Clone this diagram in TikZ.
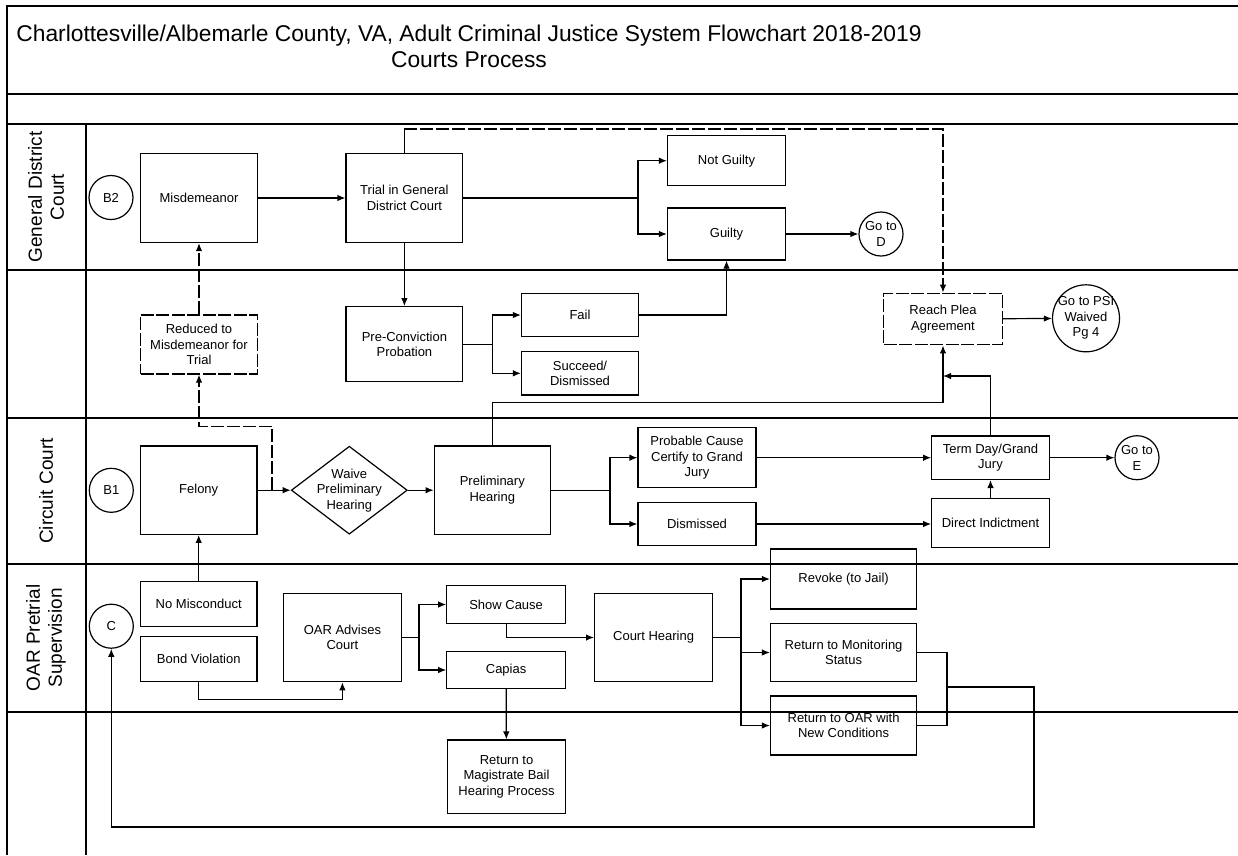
\documentclass[tikz,border=0pt]{standalone}
\usepackage{fontspec}
\setmainfont{Liberation Sans}
\usepackage{tikz}
\usetikzlibrary{shapes.geometric, arrows.meta, positioning}

\begin{document}
\begin{tikzpicture}[x=1pt, y=-1pt, line width=1.2pt,
  box/.style={draw, rectangle, align=center, inner sep=2pt, font=\fontsize{13}{15.5}\selectfont},
  wh/.style 2 args={minimum width=#1pt, minimum height=#2pt},
  dashbox/.style={box, dash pattern=on 13pt off 2.5pt},
  conn/.style={draw, circle, align=center, inner sep=0pt, minimum size=44pt, font=\fontsize{13}{15.5}\selectfont},
  gate/.style={draw, diamond, align=center, inner sep=-6pt, minimum width=116pt, minimum height=88pt, font=\fontsize{13}{15.5}\selectfont},
  flow/.style={-{Latex[length=8pt,width=6.5pt]}},
  dashflow/.style={flow, dash pattern=on 13pt off 3pt},
  lanelabel/.style={rotate=90, align=center, font=\fontsize{19}{22}\selectfont}]
\useasboundingbox (0,0) rectangle (1238,855);

% Frame and swim lanes
\def\rightedge{1238}
\draw (\rightedge,6) -- (7,6) -- (7,855);
\foreach \ly in {94,124,270,418,564,712}
  \draw (7,\ly) -- (\rightedge,\ly);
\draw (86,124) -- (86,855);

% Title
\node[align=center, font=\fontsize{22.8}{26}\selectfont] (title) at (469,46)
  {Charlottesville/Albemarle County, VA, Adult Criminal Justice System Flowchart 2018-2019\\Courts Process};

% Lane names
\node[lanelabel] (gdclbl) at (46,197) {General District\\Court};
\node[lanelabel] (cclbl) at (46,491) {Circuit Court};
\node[lanelabel] (oarlbl) at (46,638) {OAR Pretrial\\Supervision};

% General District Court
\node[conn] (b2) at (111,197.5) {B2};
\node[box, wh={116.6}{89}] (misd) at (199,198) {Misdemeanor};
\node[box, wh={116.8}{89}] (trial) at (404.4,198) {Trial in General\\District Court};
\node[box, wh={118}{50}] (notg) at (726.5,160.7) {Not Guilty};
\node[box, wh={118}{52}] (guilty) at (726.5,234) {Guilty};
\node[conn] (god) at (881,234) {Go to\\D};

% Unnamed lane
\node[dashbox, wh={116.6}{59}] (reduced) at (199,344.5) {Reduced to\\Misdemeanor for\\Trial};
\node[box, wh={116.8}{75}] (preconv) at (404.4,344.2) {Pre-Conviction\\Probation};
\node[box, wh={117}{43.4}] (fail) at (580,315) {Fail};
\node[box, wh={117}{43.4}] (succ) at (580,373.3) {Succeed/\\Dismissed};
\node[dashbox, wh={118.4}{51.7}] (plea) at (943,319) {Reach Plea\\Agreement};
\node[conn, inner sep=-6pt, minimum size=67pt] (psi) at (1086,318.3) {Go to PSI\\Waived\\Pg 4};

% Circuit Court
\node[conn] (b1) at (111.3,490.3) {B1};
\node[box, wh={116.6}{88.3}] (felony) at (198.7,490.2) {Felony};
\node[gate] (waive) at (349.3,490.2) {Waive\\Preliminary\\Hearing};
\node[box, wh={116.2}{88.3}] (prelim) at (492.3,490.2) {Preliminary\\Hearing};
\node[box, wh={118}{60}] (probable) at (697,457.7) {Probable Cause\\Certify to Grand\\Jury};
\node[box, wh={118}{43.4}] (dism) at (697,524) {Dismissed};
\node[box, wh={117.6}{43.4}] (term) at (990.5,457.7) {Term Day/Grand\\Jury};
\node[box, wh={117.6}{48.3}] (direct) at (990.5,523) {Direct Indictment};
\node[conn] (goe) at (1137,457.7) {Go to\\E};

% OAR Pretrial Supervision
\node[conn] (c) at (111.3,626.2) {C};
\node[box, wh={116.6}{45}] (nomis) at (198.7,604.2) {No Misconduct};
\node[box, wh={116.6}{45}] (bond) at (198.7,659.2) {Bond Violation};
\node[box, wh={117.8}{88.4}] (oar) at (342.4,637.5) {OAR Advises\\Court};
\node[box, wh={118.6}{37.7}] (show) at (506.1,604.5) {Show Cause};
\node[box, wh={118.6}{36.7}] (capias) at (506.1,670) {Capias};
\node[box, wh={118}{88.4}] (hearing) at (653.6,637.5) {Court Hearing};
\node[box, wh={146.2}{60}] (revoke) at (843.6,579) {Revoke (to Jail)};
\node[box, wh={146.2}{58.4}] (monit) at (843.6,652.5) {Return to Monitoring\\Status};
\node[box, wh={146.2}{59}] (retoar) at (843.6,725.5) {Return to OAR with\\New Conditions};
\node[box, wh={117.6}{73.3}] (magist) at (506.5,776.7) {Return to\\Magistrate Bail\\Hearing Process};

% Branch points
\coordinate (tsplit) at (638,198);
\coordinate (plup) at (943,129);
\coordinate (psplit) at (492.5,344.2);
\coordinate (rdfork) at (272,490.2);
\coordinate (tjoin) at (943,376);
\coordinate (hsplit) at (610,490.2);
\coordinate (osplit) at (419,637.5);
\coordinate (csplit) at (741,637.5);
\coordinate (rjoin) at (947,687);
\coordinate (loopr) at (1034,827);

% Connectors, courts
\draw[flow] (misd) -- (trial);
\draw (trial.east) -- (tsplit);
\draw[flow] (tsplit) |- (notg.west);
\draw[flow] (tsplit) |- (guilty.west);
\draw[flow] (guilty) -- (god);
\draw (trial.north) -- (trial.north |- plup);
\draw[dashflow] (trial.north |- plup) -- (plup) -- (plea.north);
\draw[flow] (trial) -- (preconv);
\draw (preconv.east) -- (psplit);
\draw[flow] (psplit) |- (fail.west);
\draw[flow] (psplit) |- (succ.west);
\draw[flow] (fail.east) -| (guilty.south);
\draw[flow] (plea) -- (psi);
\draw[dashflow] (reduced) -- (misd);

\draw[flow] (felony) -- (waive);
\draw[dashflow] (rdfork) -- ++(0,-64) -| (reduced.south);
\draw[flow] (waive) -- (prelim);
\draw[flow] (prelim.north) -- ++(0,-43) -| (plea.south);
\draw (prelim.east) -- (hsplit);
\draw[flow] (hsplit) |- (probable.west);
\draw[flow] (hsplit) |- (dism.west);
\draw[flow] (probable) -- (term);
\draw[flow] (dism.east) -- (dism.east -| direct.west);
\draw[flow] (direct) -- (term);
\draw[flow] (term.north) |- (tjoin);
\draw[flow] (term) -- (goe);

% Connectors, pretrial supervision
\draw[flow] (nomis) -- (felony);
\draw[flow] (bond.south) -- ++(0,17) -| (oar.south);
\draw (oar.east) -- (osplit);
\draw[flow] (osplit) |- (show.west);
\draw[flow] (osplit) |- (capias.west);
\draw[flow] (show.south) |- (hearing.west);
\draw[flow] (capias) -- (magist);
\draw (hearing.east) -- (csplit);
\draw[flow] (csplit) |- (revoke.west);
\draw[flow] (csplit) |- (monit.west);
\draw[flow] (csplit) |- (retoar.west);
\draw (monit.east) -| (rjoin);
\draw (retoar.east) -| (rjoin);
\draw[flow] (rjoin) -| (loopr) -| (c.south);

\end{tikzpicture}
\end{document}
